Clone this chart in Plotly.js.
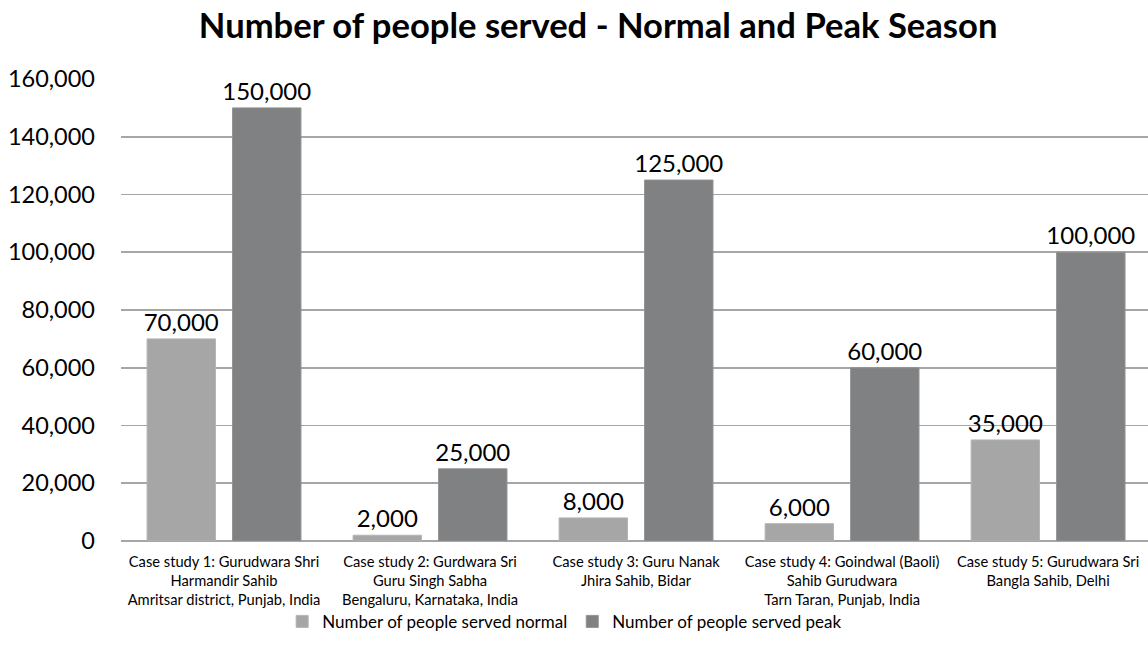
<!DOCTYPE html>
<html><head><meta charset="utf-8">
<script src="https://cdn.plot.ly/plotly-3.0.1.min.js"></script>
<style>html,body{margin:0;padding:0;background:#fff}#chart{width:1148px;height:659px}</style>
</head><body><div id="chart"></div>
<script>
const categories = [
  "Case study 1: Gurudwara Shri<br>Harmandir Sahib<br>Amritsar district, Punjab, India",
  "Case study 2: Gurdwara Sri<br>Guru Singh Sabha<br>Bengaluru, Karnataka, India",
  "Case study 3: Guru Nanak<br>Jhira Sahib, Bidar",
  "Case study 4: Goindwal (Baoli)<br>Sahib Gurudwara<br>Tarn Taran, Punjab, India",
  "Case study 5: Gurudwara Sri<br>Bangla Sahib, Delhi"
];
const normalValues = [70000, 2000, 8000, 6000, 35000];
const peakValues = [150000, 25000, 125000, 60000, 100000];
const seriesNames = ["Number of people served normal", "Number of people served peak"];
const tickVals = [0, 20000, 40000, 60000, 80000, 100000, 120000, 140000, 160000];

const FONT = "Lato, 'Open Sans', sans-serif";
const fmt = v => v.toLocaleString('en-US');

const traces = [
  {type:'bar', name:seriesNames[0], x:categories, y:normalValues,
   text:normalValues.map(fmt), textposition:'outside', cliponaxis:false, constraintext:'none',
   textfont:{family:FONT, size:24, color:'#000'},
   marker:{color:'#a6a6a7', line:{color:'#b4b4b4', width:1}}},
  {type:'bar', name:seriesNames[1], x:categories, y:peakValues,
   text:peakValues.map(fmt), textposition:'outside', cliponaxis:false, constraintext:'none',
   textfont:{family:FONT, size:24, color:'#000'},
   marker:{color:'#808183', line:{color:'#929292', width:1}}}
];

const layout = {
  width:1148, height:659,
  margin:{l:121, r:0, t:79, b:118},
  paper_bgcolor:'#fff', plot_bgcolor:'#fff',
  title:{text:'<b>Number of people served - Normal and Peak Season</b>',
    font:{family:FONT, size:34.6, color:'#000'},
    x:0.521, xanchor:'center', y:0.961, yref:'container', yanchor:'middle'},
  barmode:'group', bargap:0.17, bargroupgap:0.2,
  xaxis:{type:'category', range:[-0.5, 4.485], showgrid:false, showline:false,
    ticks:'', ticklabelstandoff:10, tickfont:{family:FONT, size:14.7, color:'#000'}, tickangle:0, automargin:false},
  yaxis:{range:[0,160000], tickvals:tickVals, ticktext:tickVals.map(fmt),
    showgrid:true, gridcolor:'#a6a6a6', gridwidth:1.8,
    zeroline:true, zerolinecolor:'#a6a6a6', zerolinewidth:1.8,
    showline:false, ticks:'', ticklabelstandoff:25,
    tickfont:{family:FONT, size:23.5, color:'#000'}, automargin:false},
  showlegend:true,
  legend:{orientation:'h', x:0.432, xanchor:'center', y:-0.175, yanchor:'middle',
    bgcolor:'rgba(0,0,0,0)',
    font:{family:FONT, size:17, color:'#000'}, itemwidth:30, traceorder:'normal'},
  font:{family:FONT}
};

Plotly.newPlot('chart', traces, layout, {displayModeBar:false, staticPlot:true});
</script></body></html>
